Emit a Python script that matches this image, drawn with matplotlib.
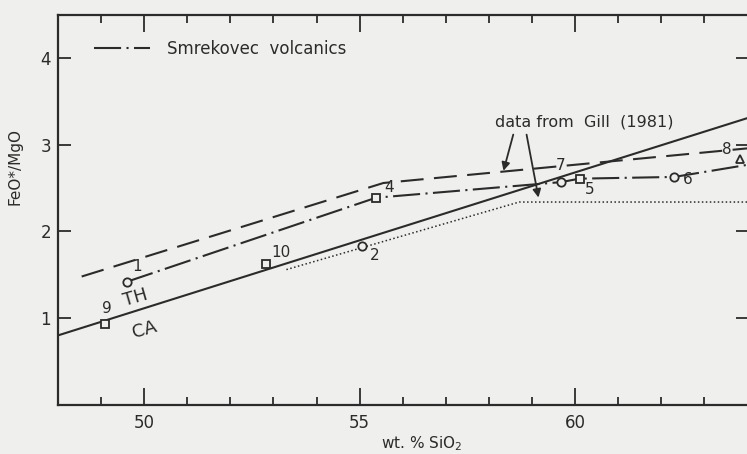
import matplotlib
matplotlib.use('Agg')
import matplotlib.pyplot as plt
from matplotlib.ticker import MultipleLocator

# CA / TH dividing line (Miyashiro)
ca_th_x = [48.0, 64.0]
ca_th_y = [0.80, 3.31]

# trends from Gill (1981)
gill_dash_x = [48.55, 55.55, 64.0]
gill_dash_y = [1.48, 2.56, 2.96]
gill_dot_x = [53.3, 58.7, 64.0]
gill_dot_y = [1.56, 2.34, 2.34]

# Smrekovec volcanics trend
smrek_x = [49.6, 55.38, 59.67, 60.1, 62.3, 64.0]
smrek_y = [1.42, 2.39, 2.57, 2.61, 2.63, 2.77]

# samples
sample_ids = ['1', '2', '4', '5', '6', '7', '8', '9', '10']
sample_x = [49.6, 55.06, 55.38, 60.1, 62.3, 59.67, 63.83, 49.1, 52.83]
sample_y = [1.42, 1.83, 2.39, 2.61, 2.63, 2.57, 2.84, 0.93, 1.62]
sample_marker = ['o', 'o', 's', 's', 'o', 'o', '^', 's', 's']

# label offsets in pixels (dx, dy up)
label_offset = {'1': (10, 15), '2': (12, -9), '4': (13, 10), '5': (10, -11),
                '6': (13, -3), '7': (0, 17), '8': (-13, 9), '9': (1, 16), '10': (15, 12)}

ink = '#2b2b2b'
bg = '#efefed'

fig = plt.figure(figsize=(7.47, 4.54), dpi=100, facecolor=bg)
ax = fig.add_axes([0.0776, 0.1086, 0.9232, 0.8584], facecolor=bg)

ax.plot(ca_th_x, ca_th_y, color=ink, lw=1.5, solid_capstyle='butt')
ax.plot(gill_dash_x, gill_dash_y, color=ink, lw=1.5, linestyle=(0, (11, 5)))
ax.plot(gill_dot_x, gill_dot_y, color=ink, lw=1.1, linestyle=(0, (1, 1.6)))
ax.plot(smrek_x, smrek_y, color=ink, lw=1.5, linestyle=(0, (13, 2.6, 1, 2.6)),
        label='Smrekovec  volcanics')

for sid, sx, sy, m in zip(sample_ids, sample_x, sample_y, sample_marker):
    ax.plot(sx, sy, marker=m, ms=6, mfc=bg, mec=ink, mew=1.3, linestyle='none', zorder=5)
    dx, dy = label_offset[sid]
    ax.annotate(sid, (sx, sy), xytext=(dx, dy), textcoords='offset pixels',
                ha='center', va='center', fontsize=11, color=ink)

ax.text(49.8, 1.23, 'TH', fontsize=13, color=ink, rotation=16, ha='center', va='center')
ax.text(50.0, 0.86, 'CA', fontsize=13, color=ink, rotation=16, ha='center', va='center')

# Gill annotation with arrows
ax.text(60.2, 3.26, 'data from  Gill  (1981)', fontsize=11.5, color=ink,
        ha='center', va='center')
ax.annotate('', xy=(58.32, 2.67), xytext=(58.58, 3.15),
            arrowprops=dict(arrowstyle='-|>', color=ink, lw=1.3, mutation_scale=12))
ax.annotate('', xy=(59.16, 2.36), xytext=(58.86, 3.15),
            arrowprops=dict(arrowstyle='-|>', color=ink, lw=1.3, mutation_scale=12))

ax.legend(loc='upper left', bbox_to_anchor=(0.03, 0.975), frameon=False,
          handlelength=3.4, handletextpad=1.0, fontsize=12, labelcolor=ink)

ax.set_xlim(48, 64)
ax.set_ylim(0, 4.5)
ax.xaxis.set_major_locator(MultipleLocator(5))
ax.xaxis.set_minor_locator(MultipleLocator(1))
ax.set_yticks([1, 2, 3, 4])

ax.tick_params(axis='x', which='major', direction='in', length=12, width=1.3,
               top=True, bottom=True, colors=ink, labelsize=12, pad=7)
ax.tick_params(axis='x', which='minor', direction='in', length=6, width=1.3,
               top=True, bottom=True, colors=ink)
ax.tick_params(axis='y', which='major', direction='in', length=9, width=1.3,
               left=True, right=True, colors=ink, labelsize=12, pad=5)

for side in ['left', 'bottom', 'top']:
    ax.spines[side].set_color(ink)
    ax.spines[side].set_linewidth(1.6)
ax.spines['right'].set_visible(False)

ax.set_xlabel('wt. % SiO$_2$', fontsize=11, color=ink)
ax.xaxis.label.set_va('center')
ax.xaxis.set_label_coords(0.528, -0.1)
ax.set_ylabel('FeO*/MgO', fontsize=11, color=ink)
ax.yaxis.set_label_coords(-0.052, 0.61)

fig.savefig('out.png', dpi=100, facecolor=bg)
